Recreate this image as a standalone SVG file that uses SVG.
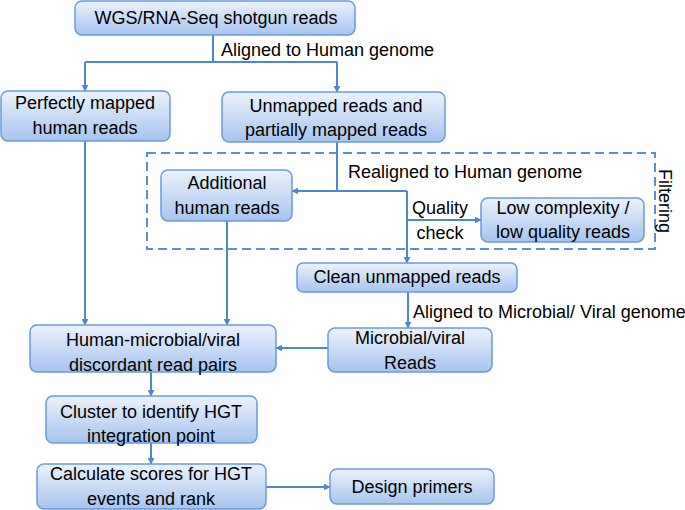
<svg xmlns="http://www.w3.org/2000/svg" width="685" height="510" viewBox="0 0 685 510">
<defs>
<linearGradient id="g" x1="0" y1="0" x2="0" y2="1">
<stop offset="0" stop-color="#ecf2fc"/>
<stop offset="1" stop-color="#a6c4ef"/>
</linearGradient>
<marker id="a" viewBox="0 0 10 10" refX="9" refY="5" markerWidth="7" markerHeight="7" markerUnits="userSpaceOnUse" orient="auto">
<path d="M0,0 L10,5 L0,10 z" fill="#4f86d0"/>
</marker>
<style>
.b{fill:url(#g);stroke:#6b9bd9;stroke-width:1.5}
.t{font-family:"Liberation Sans",Arial,sans-serif;font-size:18px;fill:#000;text-anchor:middle}
.l{font-family:"Liberation Sans",Arial,sans-serif;font-size:18px;fill:#000}
.c{fill:none;stroke:#4f86d0;stroke-width:2}
.ca{fill:none;stroke:#4f86d0;stroke-width:2;marker-end:url(#a)}
</style>
</defs>
<rect width="685" height="510" fill="#fff"/>
<rect x="147" y="153" width="508" height="96" fill="none" stroke="#5b8fd5" stroke-width="2" stroke-dasharray="9 5"/>
<text class="l" transform="translate(659,201) rotate(90)" text-anchor="middle">Filtering</text>
<g id="connectors">
<path class="c" d="M213,35 V62 M85,62 H337"/>
<path class="ca" d="M85,62 V91"/>
<path class="ca" d="M337,62 V92"/>
<path class="ca" d="M85,141 V325"/>
<path class="c" d="M337,142 V191 H407"/>
<path class="ca" d="M337,191 H292"/>
<path class="ca" d="M407,191 V263"/>
<path class="ca" d="M407,220 H481"/>
<path class="ca" d="M227,221 V325"/>
<path class="ca" d="M408,292 V328"/>
<path class="ca" d="M328,348 H276"/>
<path class="ca" d="M151,372 V396"/>
<path class="ca" d="M151,443 V464"/>
<path class="ca" d="M266,487 H330"/>
<text class="l" x="221" y="56">Aligned to Human genome</text>
<text class="l" x="348" y="178">Realigned to Human genome</text>
<text class="t" x="440" y="214">Quality</text>
<text class="t" x="440" y="239">check</text>
<text class="l" x="413" y="318">Aligned to Microbial/ Viral genome</text>
</g>
<g id="n1"><rect class="b" x="75" y="1" width="280" height="34" rx="7"/><text class="t" x="216" y="24">WGS/RNA-Seq shotgun reads</text></g>
<g id="n2"><rect class="b" x="1" y="91" width="169" height="50" rx="7"/><text class="t" x="85" y="109">Perfectly mapped</text><text class="t" x="85" y="134">human reads</text></g>
<g id="n3"><rect class="b" x="222" y="92" width="223" height="50" rx="7"/><text class="t" x="336" y="112">Unmapped reads and</text><text class="t" x="336" y="136">partially mapped reads</text></g>
<g id="n4"><rect class="b" x="161" y="170" width="131" height="51" rx="7"/><text class="t" x="227" y="189">Additional</text><text class="t" x="227" y="214">human reads</text></g>
<g id="n5"><rect class="b" x="481" y="198" width="163" height="44" rx="7"/><text class="t" x="563" y="214">Low complexity /</text><text class="t" x="563" y="238">low quality reads</text></g>
<g id="n6"><rect class="b" x="297" y="263" width="220" height="29" rx="6"/><text class="t" x="407" y="283">Clean unmapped reads</text></g>
<g id="n7"><rect class="b" x="328" y="328" width="164" height="44" rx="7"/><text class="t" x="410" y="344">Microbial/viral</text><text class="t" x="410" y="369">Reads</text></g>
<g id="n8"><rect class="b" x="30" y="325" width="246" height="47" rx="7"/><text class="t" x="153" y="346">Human-microbial/viral</text><text class="t" x="153" y="371">discordant read pairs</text></g>
<g id="n9"><rect class="b" x="46" y="396" width="211" height="47" rx="7"/><text class="t" x="151" y="418">Cluster to identify HGT</text><text class="t" x="151" y="442">integration point</text></g>
<g id="n10"><rect class="b" x="37" y="464" width="229" height="45" rx="7"/><text class="t" x="151" y="480">Calculate scores for HGT</text><text class="t" x="151" y="505">events and rank</text></g>
<g id="n11"><rect class="b" x="330" y="469" width="164" height="35" rx="7"/><text class="t" x="412" y="493">Design primers</text></g>
</svg>
